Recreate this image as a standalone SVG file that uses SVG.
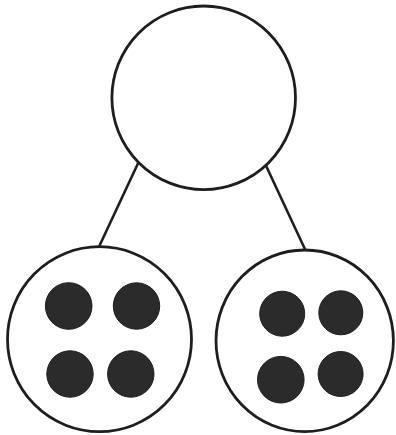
<svg xmlns="http://www.w3.org/2000/svg" width="396" height="435" viewBox="0 0 396 435">
<style>
.ring{fill:#fff;stroke:#1e1e1e;stroke-width:2.8}
.dot{fill:#2b2b2b;stroke:#1e1e1e;stroke-width:1}
.link{stroke:#1e1e1e;stroke-width:2.6;fill:none}
</style>
<rect width="396" height="435" fill="#fff"/>
<g id="connectors">
<line class="link" x1="138.3" y1="162.7" x2="98.3" y2="248.3"/>
<line class="link" x1="265.7" y1="165" x2="305" y2="249.3"/>
</g>
<g id="top">
<circle class="ring" cx="203.7" cy="97.8" r="91.8"/>
</g>
<g id="left">
<ellipse class="ring" cx="99.5" cy="339.2" rx="92" ry="92.5"/>
<circle class="dot" cx="68.7" cy="306" r="23.3"/>
<circle class="dot" cx="136.5" cy="306" r="23.2"/>
<circle class="dot" cx="70" cy="374" r="23.2"/>
<circle class="dot" cx="130.8" cy="374" r="23.2"/>
</g>
<g id="right">
<ellipse class="ring" cx="304.7" cy="340.8" rx="88.7" ry="90.8"/>
<circle class="dot" cx="282.2" cy="313.7" r="22.5"/>
<circle class="dot" cx="340.8" cy="312.8" r="22"/>
<circle class="dot" cx="280.8" cy="379.7" r="23.3"/>
<circle class="dot" cx="340.6" cy="374" r="22.5"/>
</g>
</svg>
